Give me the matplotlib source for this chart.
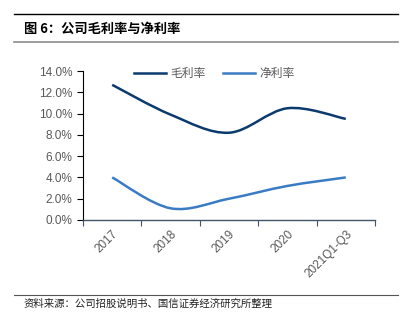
import numpy as np
import matplotlib.pyplot as plt
from matplotlib.path import Path
from matplotlib.patches import PathPatch
from matplotlib.lines import Line2D
from matplotlib.ticker import FuncFormatter

plt.rcParams['font.family'] = ['Noto Sans CJK SC', 'DejaVu Sans']

years = ['2017', '2018', '2019', '2020', '2021Q1-Q3']
gross_margin = [12.7, 9.9, 8.2, 10.5, 9.5]
net_margin = [4.0, 1.1, 2.0, 3.2, 4.0]
series_names = ['毛利率', '净利率']
colors = ['#0B3A6E', '#3A7CC4']


def smooth_path(x, y):
    """Excel-like smoothed line as cubic bezier segments."""
    pts = np.column_stack([x, y]).astype(float)
    n = len(pts)
    verts = [pts[0]]
    codes = [Path.MOVETO]
    for i in range(n - 1):
        p0 = pts[max(i - 1, 0)]
        p1 = pts[i]
        p2 = pts[i + 1]
        p3 = pts[min(i + 2, n - 1)]
        c1 = p1 + (p2 - p0) / 6
        c2 = p2 - (p3 - p1) / 6
        verts += [c1, c2, p2]
        codes += [Path.CURVE4] * 3
    return Path(verts, codes)


fig = plt.figure(figsize=(4.12, 3.26), dpi=100)
fig.patch.set_facecolor('white')

# header / footer rules
fig.add_artist(Line2D([0.034, 0.966], [1 - 14 / 326] * 2, color='black', lw=1.0))
fig.add_artist(Line2D([0.034, 0.966], [1 - 42 / 326] * 2, color='#8c8c8c', lw=1.2))
fig.add_artist(Line2D([0.034, 0.966], [1 - 295 / 326] * 2, color='#555555', lw=0.8))
fig.text(0.058, 1 - 29 / 326, '图 6：公司毛利率与净利率', fontsize=9.5,
         fontweight='bold', va='center', ha='left')
fig.text(0.058, 1 - 304 / 326, '资料来源：公司招股说明书、国信证券经济研究所整理',
         fontsize=7.5, va='center', ha='left', color='#222222')

ax = fig.add_axes([83 / 412, 1 - 220 / 326, (375 - 83) / 412, 149 / 326])
x = np.arange(len(years))
for vals, c, name in zip([gross_margin, net_margin], colors, series_names):
    ax.add_patch(PathPatch(smooth_path(x, vals), facecolor='none',
                           edgecolor=c, lw=1.8, capstyle='butt'))
    ax.plot([], [], color=c, lw=1.8, label=name)

ax.set_xlim(-0.5, len(years) - 0.5)
ax.set_ylim(0, 14)
ax.set_yticks(np.arange(0, 15, 2))
ax.yaxis.set_major_formatter(FuncFormatter(lambda v, p: f'{v:.1f}%'))
ax.set_xticks(np.arange(-0.5, len(years), 1.0))
ax.set_xticklabels([])
ax.set_xticks(x, minor=True)
ax.set_xticklabels(years, minor=True, rotation=45, ha='right',
                   rotation_mode='anchor', color='#595959', fontsize=8.5,
                   family=['Liberation Sans'])
ax.tick_params(axis='x', which='minor', length=0, pad=6)
ax.tick_params(axis='x', which='major', length=4, color='#44546A', direction='out')
ax.tick_params(axis='y', length=4, color='black', labelcolor='#595959',
               labelsize=8.5, direction='out')
for lbl in ax.get_yticklabels():
    lbl.set_family('Liberation Sans')

for s in ['top', 'right']:
    ax.spines[s].set_visible(False)
ax.spines['left'].set_color('black')
ax.spines['bottom'].set_color('#44546A')
ax.spines['bottom'].set_linewidth(1.0)

leg = ax.legend(loc='upper center', ncol=2, frameon=False, fontsize=8.5,
                bbox_to_anchor=(0.45, 1.1), handlelength=2.7,
                columnspacing=1.5, handletextpad=0.4)
for t in leg.get_texts():
    t.set_color('#595959')

fig.savefig('out.png', dpi=100, facecolor='white')
